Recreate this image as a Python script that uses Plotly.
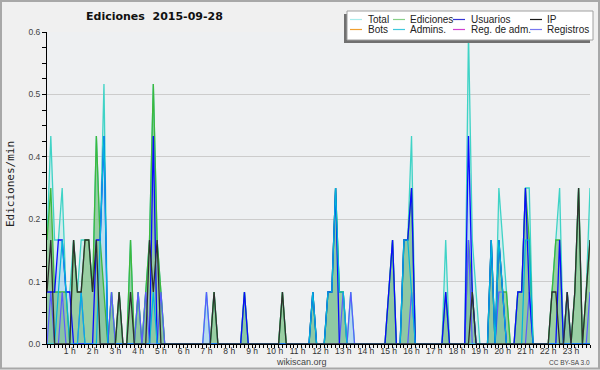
import plotly.graph_objects as go

# ---- data: edits per minute, one value per 10-minute bin (6 per hour) ----
total = [
    0.2, 0.4, 0.2, 0.2, 0.3, 0.1,   # 0h
    0.1, 0.2, 0.1, 0.2, 0.2, 0.2,   # 1h
    0.1, 0.4, 0.2, 0.5, 0, 0.1,     # 2h
    0, 0.1, 0, 0, 0.2, 0,           # 3h
    0.1, 0, 0.1, 0.2, 0.5, 0.2,     # 4h
    0.1, 0, 0, 0, 0, 0,             # 5h
    0, 0, 0, 0, 0, 0,               # 6h
    0.1, 0, 0.1, 0, 0, 0,           # 7h
    0, 0, 0, 0, 0.1, 0,             # 8h
    0, 0, 0, 0, 0, 0,               # 9h
    0, 0, 0.1, 0, 0, 0,             # 10h
    0, 0, 0, 0, 0.1, 0,             # 11h
    0, 0, 0.1, 0.1, 0.3, 0.1,       # 12h
    0.1, 0, 0.1, 0, 0, 0,           # 13h
    0, 0, 0, 0, 0, 0,               # 14h
    0.1, 0.2, 0, 0, 0.2, 0.2,       # 15h
    0.4, 0, 0, 0, 0, 0,             # 16h
    0, 0, 0, 0.2, 0, 0,             # 17h
    0, 0, 0, 0.6, 0.2, 0.1,         # 18h
    0, 0, 0, 0.2, 0, 0.3,           # 19h
    0.2, 0.1, 0, 0, 0.1, 0.1,       # 20h
    0.3, 0.3, 0, 0, 0, 0,           # 21h
    0, 0.1, 0.2, 0.3, 0, 0.1,       # 22h
    0, 0.1, 0.3, 0, 0.1, 0.3,       # 23h
]
ediciones = [
    0.2, 0.3, 0.1, 0.1, 0.1, 0.1,
    0, 0.2, 0.1, 0.1, 0.2, 0.2,
    0.1, 0.4, 0.2, 0.1, 0, 0.1,
    0, 0.1, 0, 0, 0.2, 0,
    0.1, 0, 0.1, 0.2, 0.5, 0.2,
    0.1, 0, 0, 0, 0, 0,
    0, 0, 0, 0, 0, 0,
    0, 0, 0.1, 0, 0, 0,
    0, 0, 0, 0, 0.1, 0,
    0, 0, 0, 0, 0, 0,
    0, 0, 0.1, 0, 0, 0,
    0, 0, 0, 0, 0.1, 0,
    0, 0, 0.1, 0.1, 0.3, 0.1,
    0.1, 0, 0, 0, 0, 0,
    0, 0, 0, 0, 0, 0,
    0.1, 0.2, 0, 0, 0.2, 0.2,
    0.3, 0, 0, 0, 0, 0,
    0, 0, 0, 0.1, 0, 0,
    0, 0, 0, 0.2, 0.1, 0,
    0, 0, 0, 0.2, 0, 0.2,
    0.1, 0.1, 0, 0, 0.1, 0.1,
    0.3, 0.2, 0, 0, 0, 0,
    0, 0.1, 0.2, 0.2, 0, 0.1,
    0, 0.1, 0.3, 0, 0.1, 0.2,
]
usuarios = [
    0.1, 0.1, 0.1, 0.2, 0.2, 0.1,
    0.1, 0, 0, 0, 0, 0,
    0, 0.2, 0.2, 0.4, 0, 0,
    0, 0, 0, 0, 0, 0,
    0, 0, 0, 0, 0.4, 0,
    0, 0, 0, 0, 0, 0,
    0, 0, 0, 0, 0, 0,
    0, 0, 0, 0, 0, 0,
    0, 0, 0, 0, 0.1, 0,
    0, 0, 0, 0, 0, 0,
    0, 0, 0, 0, 0, 0,
    0, 0, 0, 0, 0.1, 0,
    0, 0, 0.1, 0.1, 0.3, 0,
    0, 0, 0, 0, 0, 0,
    0, 0, 0, 0, 0, 0,
    0.1, 0.2, 0, 0, 0.2, 0.2,
    0.3, 0, 0, 0, 0, 0,
    0, 0, 0, 0.1, 0, 0,
    0, 0, 0, 0.4, 0.1, 0,
    0, 0, 0, 0.2, 0, 0.2,
    0.1, 0, 0, 0, 0.1, 0.1,
    0.3, 0.1, 0, 0, 0, 0,
    0, 0, 0, 0.2, 0, 0,
    0, 0, 0, 0, 0, 0,
]
ip = [
    0.1, 0.2, 0, 0, 0, 0,
    0, 0.2, 0.1, 0.1, 0.2, 0.2,
    0.1, 0.2, 0, 0, 0, 0,
    0, 0.1, 0, 0, 0.1, 0,
    0, 0, 0, 0.2, 0.1, 0.2,
    0, 0, 0, 0, 0, 0,
    0, 0, 0, 0, 0, 0,
    0, 0, 0.1, 0, 0, 0,
    0, 0, 0, 0, 0, 0,
    0, 0, 0, 0, 0, 0,
    0, 0, 0.1, 0, 0, 0,
    0, 0, 0, 0, 0, 0,
    0, 0, 0, 0, 0, 0,
    0, 0, 0, 0, 0, 0,
    0, 0, 0, 0, 0, 0,
    0, 0, 0, 0, 0, 0,
    0, 0, 0, 0, 0, 0,
    0, 0, 0, 0, 0, 0,
    0, 0, 0, 0, 0.1, 0,
    0, 0, 0, 0, 0, 0,
    0, 0, 0, 0, 0, 0,
    0, 0, 0, 0, 0, 0,
    0, 0.1, 0.1, 0, 0, 0.1,
    0, 0.1, 0.3, 0, 0.1, 0.2,
]
admins = [
    0, 0, 0, 0.1, 0.2, 0.1,
    0, 0, 0, 0.1, 0, 0,
    0, 0, 0.2, 0.4, 0, 0,
    0, 0, 0, 0, 0, 0,
    0, 0, 0, 0, 0.1, 0,
    0, 0, 0, 0, 0, 0,
    0, 0, 0, 0, 0, 0,
    0, 0, 0, 0, 0, 0,
    0, 0, 0, 0, 0, 0,
    0, 0, 0, 0, 0, 0,
    0, 0, 0, 0, 0, 0,
    0, 0, 0, 0, 0.1, 0,
    0, 0, 0.1, 0.1, 0.3, 0.1,
    0.1, 0, 0, 0, 0, 0,
    0, 0, 0, 0, 0, 0,
    0, 0, 0, 0, 0.2, 0.2,
    0.1, 0, 0, 0, 0, 0,
    0, 0, 0, 0, 0, 0,
    0, 0, 0, 0, 0, 0,
    0, 0, 0, 0.2, 0, 0.2,
    0.1, 0, 0, 0, 0, 0,
    0.2, 0.2, 0, 0, 0, 0,
    0, 0, 0, 0, 0, 0,
    0, 0, 0, 0, 0, 0,
]
registros = [
    0, 0.1, 0, 0, 0.1, 0,
    0, 0, 0, 0.1, 0, 0,
    0, 0, 0, 0, 0, 0.1,
    0, 0, 0, 0, 0, 0,
    0.1, 0, 0.1, 0, 0, 0,
    0.1, 0, 0, 0, 0, 0,
    0, 0, 0, 0, 0, 0,
    0.1, 0, 0, 0, 0, 0,
    0, 0, 0, 0, 0, 0,
    0, 0, 0, 0, 0, 0,
    0, 0, 0, 0, 0, 0,
    0, 0, 0, 0, 0, 0,
    0, 0, 0, 0, 0, 0,
    0.1, 0, 0.1, 0, 0, 0,
    0, 0, 0, 0, 0, 0,
    0, 0, 0, 0, 0, 0,
    0.1, 0, 0, 0, 0, 0,
    0, 0, 0, 0, 0, 0,
    0, 0, 0, 0.2, 0, 0,
    0, 0, 0, 0, 0, 0.1,
    0.1, 0, 0, 0, 0, 0,
    0, 0.1, 0, 0, 0, 0,
    0, 0, 0, 0, 0, 0.1,
    0, 0, 0, 0, 0, 0.1,
]
hour_ticks = list(range(1, 24))
hour_labels = [f"{h} h" for h in hour_ticks]
y_tickvals = [0, 0.12, 0.24, 0.36, 0.48, 0.6]
y_ticktext = ["0.0", "0.1", "0.2", "0.4", "0.5", "0.6"]

legend_items = [
    ("Total", "#a8ecec"), ("Ediciones", "#88d088"), ("Usuarios", "#3535d5"), ("IP", "#1a1a1a"),
    ("Bots", "#f0a030"), ("Admins.", "#40c8dc"), ("Reg. de adm.", "#d040d0"), ("Registros", "#7878f0"),
]

# ---- layout geometry ----
W, H = 600, 370
ML, MR, MT, MB = 47, 10, 32, 26
PW, PH = W - ML - MR, H - MT - MB


def px(x):
    return (x - ML) / PW


def py(y):
    return (H - MB - y) / PH


x = [i / 6 for i in range(len(total))]

fig = go.Figure()


def fill(y, color):
    fig.add_trace(go.Scatter(x=x, y=y, mode="lines", line=dict(width=0),
                             fill="tozeroy", fillcolor=color, showlegend=False, hoverinfo="skip"))


fill(total, "rgba(150,228,224,0.30)")
fill(registros, "rgba(150,200,240,0.45)")
fill(usuarios, "rgba(150,200,240,0.40)")
fill(ediciones, "rgba(110,185,110,0.58)")


def line(y, color, w=1.3):
    fig.add_trace(go.Scatter(x=x, y=y, mode="lines", line=dict(color=color, width=w),
                             showlegend=False, hoverinfo="skip"))


line(total, "#3fd3c6")
line(ediciones, "#3db83d")
line(registros, "#5a5aff", 1.2)
line(usuarios, "#0a0aff")
line(admins, "#00b5dd", 1.2)
line(ip, "#2f2f2f")

shapes = []
annotations = []

# figure border
shapes.append(dict(type="rect", xref="paper", yref="paper", x0=px(1), x1=px(599), y0=py(368.5), y1=py(1),
                   line=dict(color="#a8a8a8", width=2), fillcolor="rgba(0,0,0,0)", layer="above"))

# legend box with shadow
shapes.append(dict(type="rect", xref="paper", yref="paper", x0=px(344), x1=px(590), y0=py(43), y1=py(14),
                   line=dict(width=0), fillcolor="#707070", layer="above"))
shapes.append(dict(type="rect", xref="paper", yref="paper", x0=px(347), x1=px(593), y0=py(40), y1=py(11),
                   line=dict(color="#a0a0a0", width=1), fillcolor="#ffffff", layer="above"))
col_line_x = [350, 393, 453, 530]
col_text_x = [366, 408, 469, 545]
row_y = [19.5, 29.5]
for i, (name, color) in enumerate(legend_items):
    r, c = divmod(i, 4)
    yy = row_y[r]
    shapes.append(dict(type="line", xref="paper", yref="paper", x0=px(col_line_x[c]), x1=px(col_line_x[c] + 12),
                       y0=py(yy), y1=py(yy), line=dict(color=color, width=1.2), layer="above"))
    annotations.append(dict(xref="paper", yref="paper", x=px(col_text_x[c]), y=py(yy), text=name,
                            showarrow=False, xanchor="left", yanchor="middle",
                            font=dict(family="Liberation Sans", size=10, color="#222")))

# title and texts
annotations.append(dict(xref="paper", yref="paper", x=px(154), y=py(17), text="<b>Ediciones  2015-09-28</b>",
                        showarrow=False, xanchor="center", yanchor="middle",
                        font=dict(family="DejaVu Sans", size=11, color="#111")))
annotations.append(dict(xref="paper", yref="paper", x=px(10), y=py(184), text="Ediciones/min", textangle=-90,
                        showarrow=False, xanchor="center", yanchor="middle",
                        font=dict(family="DejaVu Sans Mono", size=11, color="#222")))
annotations.append(dict(xref="paper", yref="paper", x=px(301), y=py(362), text="wikiscan.org",
                        showarrow=False, xanchor="center", yanchor="middle",
                        font=dict(family="Liberation Sans", size=9, color="#444")))
annotations.append(dict(xref="paper", yref="paper", x=px(569.5), y=py(362), text="CC BY-SA 3.0",
                        showarrow=False, xanchor="center", yanchor="middle",
                        font=dict(family="Liberation Sans", size=6.5, color="#444")))

fig.update_layout(
    width=W, height=H, autosize=False,
    margin=dict(l=ML, r=MR, t=MT, b=MB, pad=0),
    paper_bgcolor="#f0f0f0", plot_bgcolor="#eef0f2",
    showlegend=False, shapes=shapes, annotations=annotations,
    xaxis=dict(range=[0, (len(total) - 1) / 6], tickvals=hour_ticks, ticktext=hour_labels,
               ticks="outside", ticklen=3, tickcolor="#000", tickwidth=1, ticklabelstandoff=-4,
               minor=dict(dtick=1 / 6, tick0=0, ticklen=3, tickcolor="#000", ticks="outside"),
               showline=True, linecolor="#000", linewidth=1, showgrid=False, zeroline=False,
               tickfont=dict(family="Liberation Sans", size=8.5, color="#333"), fixedrange=True),
    yaxis=dict(range=[0, 0.6], tickvals=y_tickvals, ticktext=y_ticktext,
               ticks="outside", ticklen=4, tickcolor="#000", tickwidth=1,
               minor=dict(dtick=0.03, tick0=0, ticklen=4, tickcolor="#000", ticks="outside"),
               showline=True, linecolor="#000", linewidth=1, showgrid=True, gridcolor="#cccccc",
               gridwidth=1, zeroline=False,
               tickfont=dict(family="Liberation Sans", size=8.5, color="#444"), fixedrange=True),
)

fig.write_html("out.html", config={"displayModeBar": False, "staticPlot": True},
               post_script="document.body.style.margin='0px';document.body.style.padding='0px';")
